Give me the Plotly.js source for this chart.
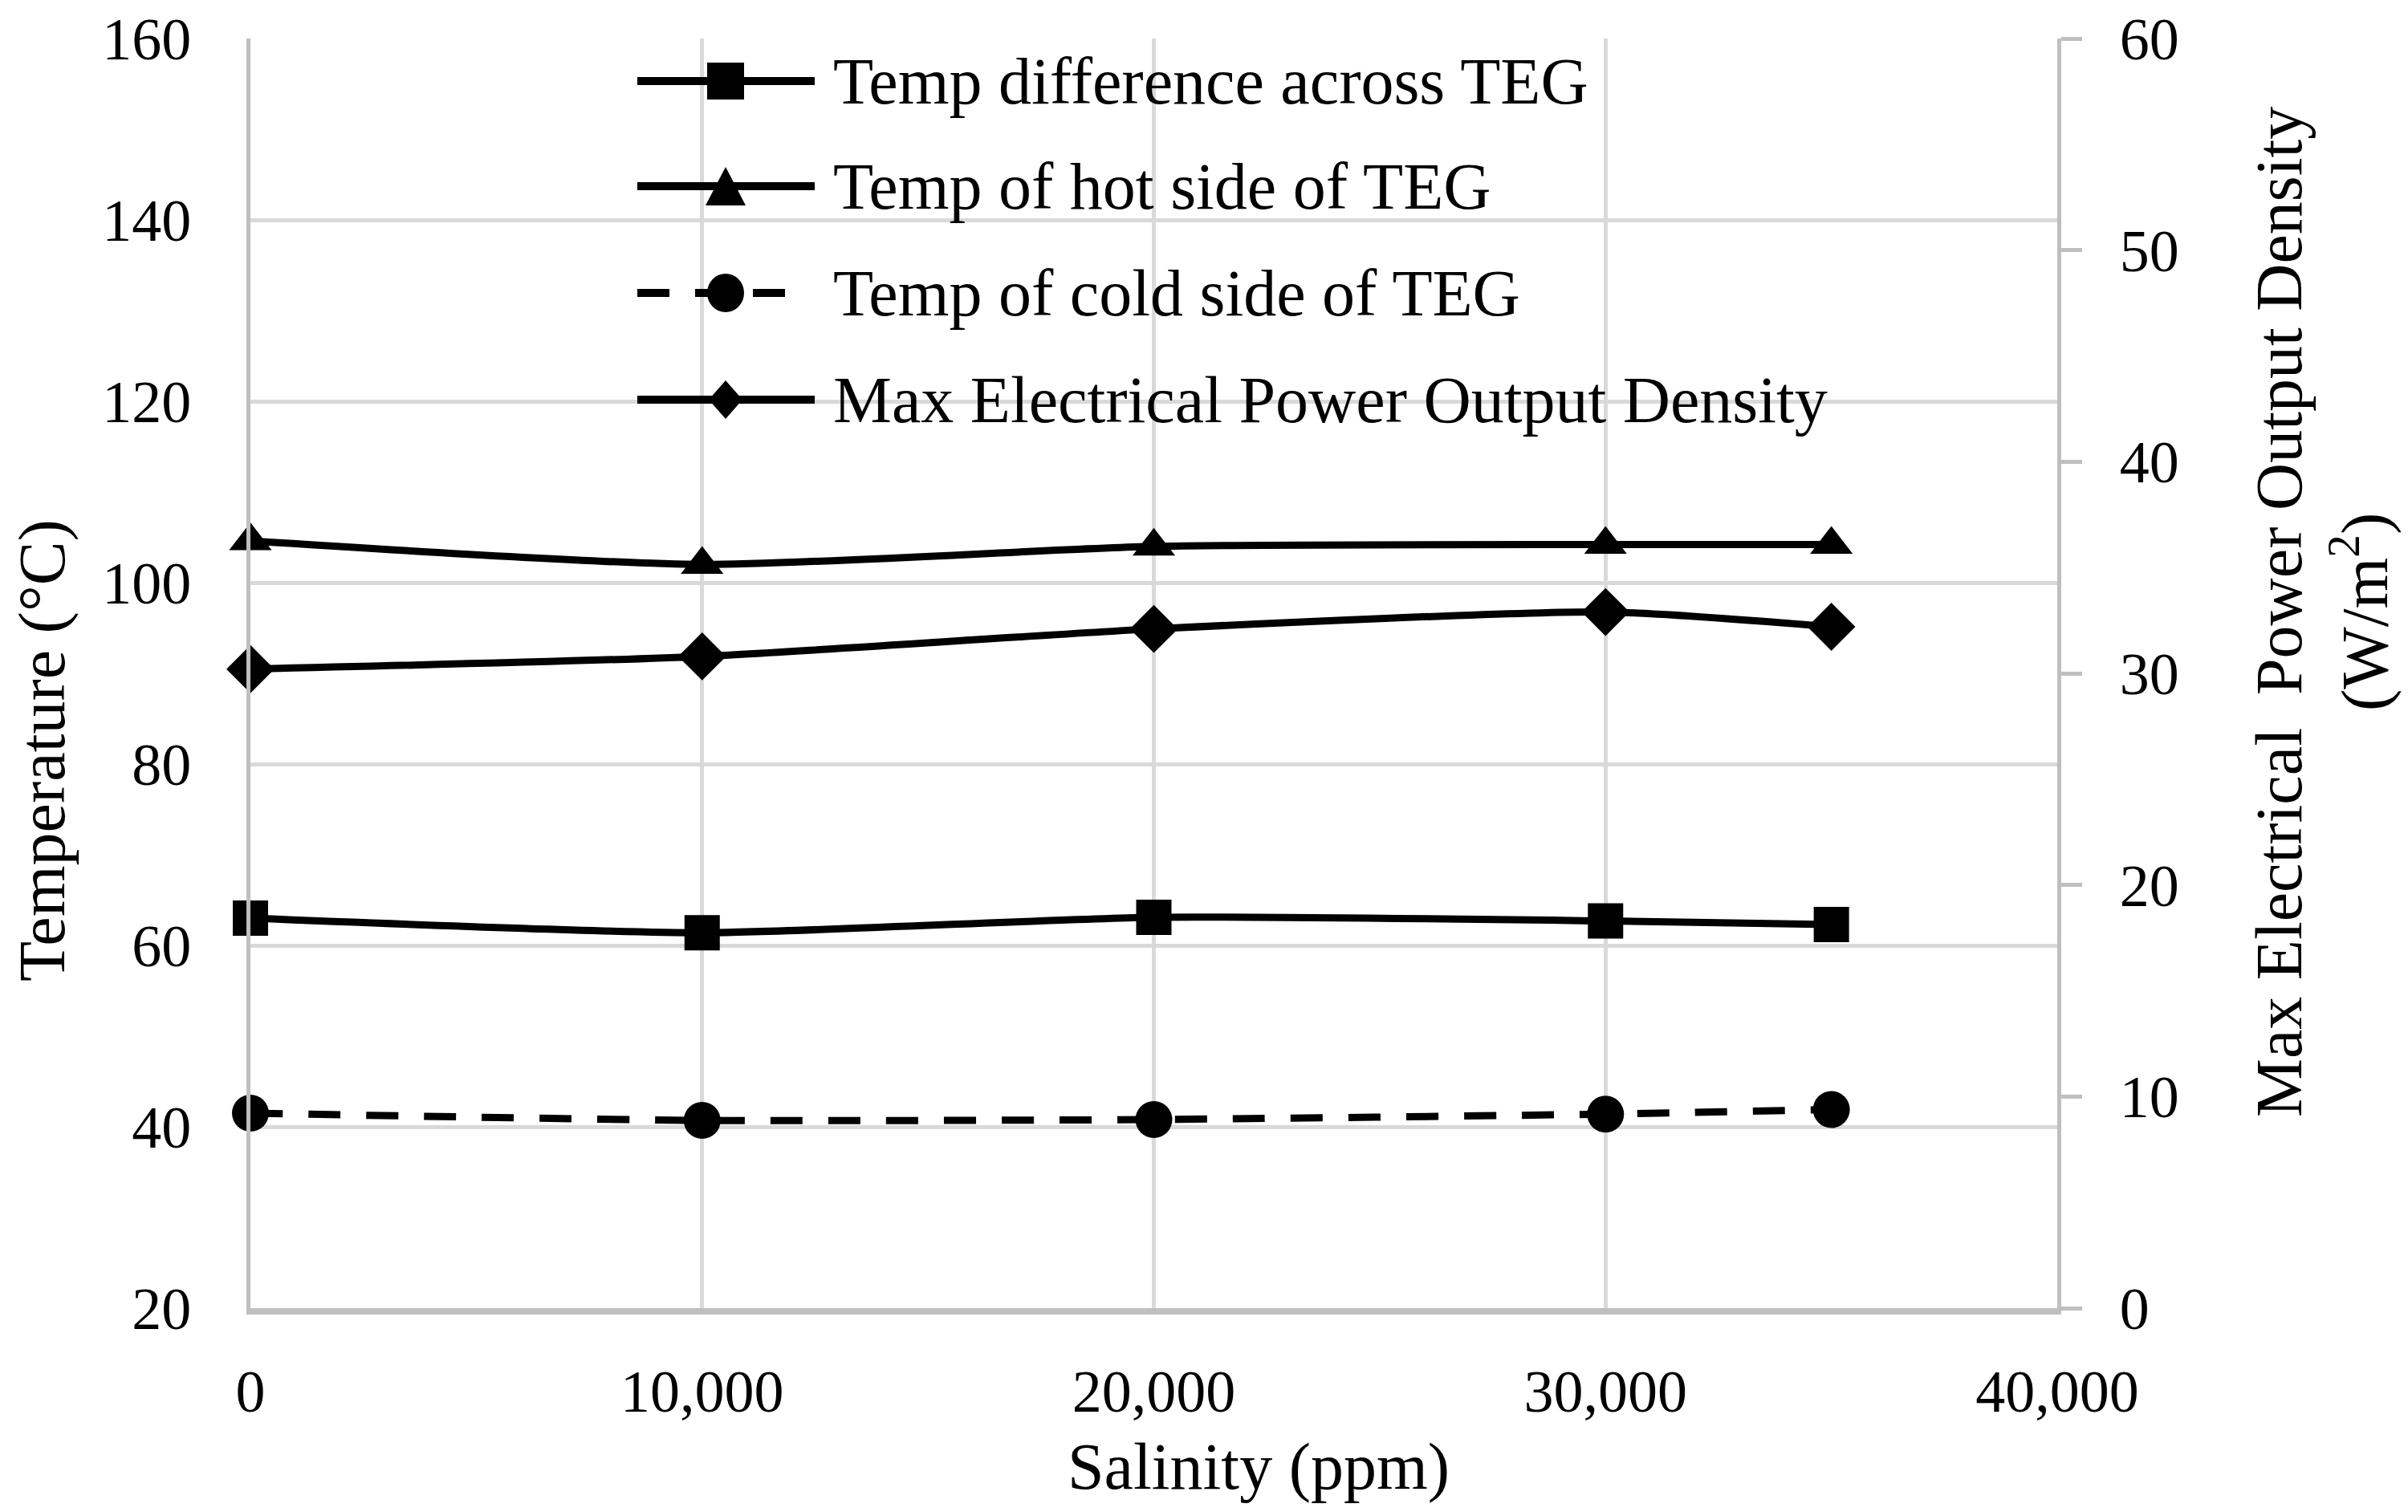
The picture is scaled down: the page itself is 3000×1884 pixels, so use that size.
<!DOCTYPE html>
<html>
<head>
<meta charset="utf-8">
<script src="https://cdn.plot.ly/plotly-3.0.1.min.js"></script>
<style>
  html, body { margin: 0; padding: 0; background: #ffffff; }
  #chart { width: 3000px; height: 1884px; }
</style>
</head>
<body>
<div id="chart"></div>
<script>
const salinity = [0, 10000, 20000, 30000, 35000];
const tempDiff = [63.0, 61.4, 63.1, 62.7, 62.3];
const tempHot = [104.6, 102.0, 104.0, 104.2, 104.2];
const tempCold = [41.5, 40.7, 40.8, 41.4, 41.9];
const powerDensity = [30.2, 30.8, 32.1, 32.9, 32.2];
const seriesNames = [
  'Temp difference across TEG',
  'Temp of hot side of TEG',
  'Temp of cold side of TEG',
  'Max Electrical Power Output Density',
];

const FONT = '"Liberation Serif", "DejaVu Serif", serif';
const GRID = '#d9d9d9';
const AXIS = '#bfbfbf';
const COLD_DASH = '40px,32px';

// plot area in page pixels, used to place the hand-drawn legend and titles
const M = { l: 312, r: 437, t: 48, b: 254 };
const PW = 3000 - M.l - M.r;
const PH = 1884 - M.t - M.b;
const px = v => (v - M.l) / PW;
const py = v => (1884 - M.b - v) / PH;

function series(name, y, symbol, opts = {}) {
  return {
    x: salinity, y, name, type: 'scatter', mode: 'lines+markers',
    line: { color: '#000000', width: 9, shape: 'spline', smoothing: 0.6, dash: opts.dash || 'solid' },
    marker: { color: '#000000', symbol, size: opts.size || 46 },
    yaxis: opts.yaxis || 'y',
    cliponaxis: false,
    showlegend: false,
  };
}

const traces = [
  series(seriesNames[0], tempDiff, 'square', { size: 44 }),
  series(seriesNames[1], tempHot, 'triangle-up'),
  series(seriesNames[2], tempCold, 'circle', { dash: COLD_DASH }),
  series(seriesNames[3], powerDensity, 'diamond', { yaxis: 'y2' }),
];

// legend drawn as shapes + annotations so the keys keep the long Excel look
const keyX0 = 794, keyX1 = 1015, keyMid = 904, textX = 1036;
const keyY = [101, 232, 365, 498];
const shapes = [];
const annotations = [];
const black = { fillcolor: '#000000', line: { width: 0 }, xref: 'paper', yref: 'paper' };

keyY.forEach((yc, i) => {
  const dashed = i === 2;
  shapes.push({
    type: 'line', xref: 'paper', yref: 'paper',
    x0: px(keyX0), x1: px(dashed ? 980 : keyX1), y0: py(yc), y1: py(yc),
    line: { color: '#000000', width: 10, dash: dashed ? COLD_DASH : 'solid' },
  });
  if (i === 0) {
    shapes.push({ type: 'rect', ...black, x0: px(keyMid - 23), x1: px(keyMid + 23), y0: py(yc + 23), y1: py(yc - 23) });
  } else if (i === 1) {
    shapes.push({ type: 'path', ...black,
      path: `M ${px(keyMid - 25)},${py(yc + 24)} L ${px(keyMid + 25)},${py(yc + 24)} L ${px(keyMid)},${py(yc - 24)} Z` });
  } else if (i === 2) {
    shapes.push({ type: 'circle', ...black, x0: px(keyMid - 23), x1: px(keyMid + 23), y0: py(yc + 24), y1: py(yc - 24) });
  } else {
    shapes.push({ type: 'path', ...black,
      path: `M ${px(keyMid - 21)},${py(yc)} L ${px(keyMid)},${py(yc - 24)} L ${px(keyMid + 21)},${py(yc)} L ${px(keyMid)},${py(yc + 24)} Z` });
  }
  annotations.push({
    text: seriesNames[i], xref: 'paper', yref: 'paper', x: px(textX), y: py(yc),
    xanchor: 'left', yanchor: 'middle', showarrow: false,
    font: { family: FONT, size: 82, color: '#000000' },
  });
});

// axis titles (Excel places them off-centre, so annotations instead of axis titles)
annotations.push(
  { text: 'Salinity (ppm)', xref: 'paper', yref: 'paper', x: px(1568), y: py(1828),
    xanchor: 'center', yanchor: 'middle', showarrow: false, font: { family: FONT, size: 82 } },
  { text: 'Temperature (°C)', xref: 'paper', yref: 'paper', x: px(53), y: py(935), textangle: -90,
    xanchor: 'center', yanchor: 'middle', showarrow: false, font: { family: FONT, size: 82 } },
  { text: 'Max Electrical  Power Output Density<br>(W/m<sup>2</sup>)', xref: 'paper', yref: 'paper',
    x: px(2893), y: py(763), textangle: -90,
    xanchor: 'center', yanchor: 'middle', showarrow: false, font: { family: FONT, size: 82 } },
);

const layout = {
  width: 3000,
  height: 1884,
  paper_bgcolor: '#ffffff',
  plot_bgcolor: '#ffffff',
  font: { family: FONT, size: 74, color: '#000000' },
  margin: M,
  showlegend: false,
  xaxis: {
    range: [0, 40000], dtick: 10000, tickformat: ',d',
    showgrid: true, gridcolor: GRID, gridwidth: 5,
    showline: true, linecolor: AXIS, linewidth: 8,
    zeroline: false, ticks: '', ticklabelstandoff: 32,
    tickfont: { family: FONT, size: 74 },
  },
  yaxis: {
    range: [20, 160], dtick: 20,
    showgrid: true, gridcolor: GRID, gridwidth: 5,
    showline: true, linecolor: AXIS, linewidth: 5,
    zeroline: false, ticks: '', ticklabelstandoff: 54,
    tickfont: { family: FONT, size: 74 },
  },
  yaxis2: {
    range: [0, 60], dtick: 10, overlaying: 'y', side: 'right',
    showgrid: false, zeroline: false,
    showline: true, linecolor: AXIS, linewidth: 5,
    ticks: 'outside', ticklen: 26, tickwidth: 5, tickcolor: AXIS,
    ticklabelstandoff: 32,
    tickfont: { family: FONT, size: 74 },
  },
  shapes,
  annotations,
};

Plotly.newPlot('chart', traces, layout, { displayModeBar: false, staticPlot: true });
</script>
</body>
</html>
